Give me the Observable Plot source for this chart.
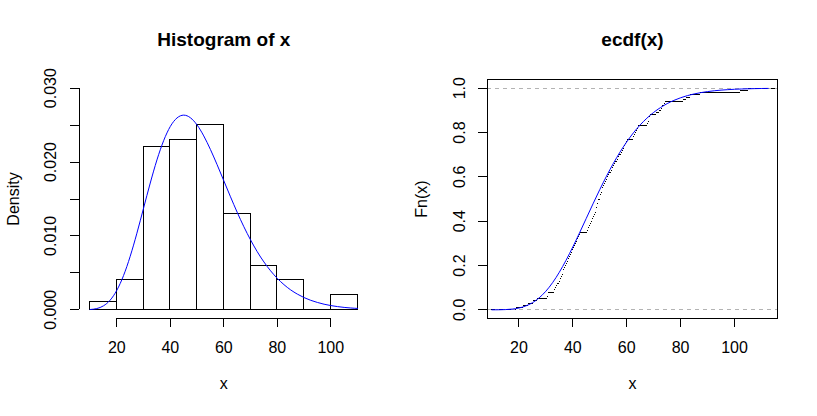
<!DOCTYPE html>
<html><head><meta charset="utf-8">
<script src="https://cdn.jsdelivr.net/npm/d3@7"></script>
<script src="https://cdn.jsdelivr.net/npm/@observablehq/plot@0.6"></script>
<style>
body{margin:0;background:#fff;}
#wrap{display:flex;width:817px;height:416px;background:#fff;}
</style></head><body><div id="wrap"></div>
<script>
// Histogram bins (density scale)
const binStarts = [10, 20, 30, 40, 50, 60, 70, 80, 90, 100];
const binEnds   = [20, 30, 40, 50, 60, 70, 80, 90, 100, 110];
const binDensity = [0.001, 0.004, 0.022, 0.023, 0.025, 0.013, 0.006, 0.004, 0.000, 0.002];

// Blue density curve
const densX = [10, 12.5, 15, 17.5, 20, 22.5, 25, 27.5, 30, 32.5, 35, 37.5, 40, 42.5, 45, 47.5, 50, 52.5, 55, 57.5, 60, 62.5, 65, 67.5, 70, 72.5, 75, 77.5, 80, 82.5, 85, 87.5, 90, 92.5, 95, 97.5, 100, 102.5, 105, 107.5, 110];
const densY = [0.00004, 0.00017, 0.00054, 0.00131, 0.00265, 0.00463, 0.00725, 0.01037, 0.01377, 0.01716, 0.02029, 0.02289, 0.02482, 0.02597, 0.02635, 0.02600, 0.02502, 0.02354, 0.02170, 0.01964, 0.01747, 0.01530, 0.01321, 0.01125, 0.00947, 0.00787, 0.00648, 0.00528, 0.00426, 0.00341, 0.00270, 0.00213, 0.00166, 0.00129, 0.00100, 0.00076, 0.00058, 0.00044, 0.00033, 0.00025, 0.00019];

// Blue CDF curve
const cdfX = [10, 12.5, 15, 17.5, 20, 22.5, 25, 27.5, 30, 32.5, 35, 37.5, 40, 42.5, 45, 47.5, 50, 52.5, 55, 57.5, 60, 62.5, 65, 67.5, 70, 72.5, 75, 77.5, 80, 82.5, 85, 87.5, 90, 92.5, 95, 97.5, 100, 102.5, 105, 107.5, 110, 112.5];
const cdfY = [0.00005, 0.0003, 0.0011, 0.0033, 0.0081, 0.0171, 0.0318, 0.0538, 0.0839, 0.1226, 0.1695, 0.2236, 0.2834, 0.3470, 0.4126, 0.4782, 0.5421, 0.6029, 0.6595, 0.7112, 0.7576, 0.7986, 0.8342, 0.8647, 0.8906, 0.9122, 0.9302, 0.9448, 0.9567, 0.9663, 0.9739, 0.9799, 0.9846, 0.9883, 0.9911, 0.9933, 0.9950, 0.9963, 0.9972, 0.9980, 0.9985, 0.9989];

// Sample values (100) behind the ECDF steps
const xSample = [19.3, 21.7, 23.5, 25.3, 27.0,
  30.6, 30.9, 31.1, 33.3, 33.6, 34.0, 34.5, 35.0, 35.4, 35.8, 36.1, 36.4, 36.7, 37.0, 37.3, 37.7, 38.1, 38.5, 38.8, 39.1, 39.4, 39.8,
  40.3, 40.6, 40.9, 41.3, 41.7, 42.1, 42.5, 42.9, 45.4, 45.8, 46.2, 46.6, 47.0, 47.4, 47.8, 48.1, 48.4, 48.7, 48.9, 49.1, 49.3, 49.5, 49.7,
  50.2, 50.4, 50.7, 50.9, 51.2, 51.5, 51.8, 52.2, 52.6, 53.0, 53.4, 53.8, 54.2, 54.6, 55.0, 55.4, 55.9, 56.4, 56.9, 57.4, 57.9, 58.4, 58.9, 59.3, 59.7,
  60.1, 60.4, 62.5, 62.9, 63.3, 63.7, 64.0, 64.4, 67.9, 68.2, 68.4, 68.6, 68.8,
  71.0, 72.0, 72.8, 73.4, 73.9, 74.4,
  81.2, 82.1, 83.5, 87.4,
  102.1, 105.0];

const xTicks = [20, 40, 60, 80, 100];
const histYTicks = [0, 0.005, 0.010, 0.015, 0.020, 0.025, 0.030];
const histYLabels = [0, 0.010, 0.020, 0.030];
const ecdfYTicks = [0, 0.2, 0.4, 0.6, 0.8, 1.0];

const font = "'Liberation Sans', Arial, Helvetica, sans-serif";
const FS = 16;
const TFS = 19;
const crisp = {shapeRendering: "crispEdges"};
const common = {height: 416, marginTop: 78.8, marginBottom: 97.8,
  style: {fontFamily: font, color: "black", background: "white", overflow: "visible"}};

// ---------- Left: histogram ----------
const hist = binStarts.map((s, i) => ({x1: s, x2: binEnds[i], d: binDensity[i]}));
const dens = densX.map((x, i) => ({x, y: densY[i]}));
const hxDom = [6, 114], hyDom = [-0.0012, 0.0312];

const left = Plot.plot({
  ...common,
  width: 408, marginLeft: 78.9, marginRight: 40.3,
  x: {domain: hxDom}, y: {domain: hyDom},
  marks: [
    Plot.rect(hist, {x1: "x1", x2: "x2", y1: () => 0, y2: "d", fill: "none", stroke: "black", strokeWidth: 1, ...crisp}),
    Plot.ruleY([0], {x1: binStarts[0], x2: binEnds[binEnds.length - 1], stroke: "black", strokeWidth: 1, ...crisp}),
    Plot.line(dens, {x: "x", y: "y", stroke: "#0000ff", strokeWidth: 1, curve: "natural"}),
    Plot.ruleY([hyDom[0]], {x1: xTicks[0], x2: xTicks[xTicks.length - 1], stroke: "black", strokeWidth: 1, ...crisp}),
    Plot.ruleX([hxDom[0]], {y1: histYTicks[0], y2: histYTicks[histYTicks.length - 1], stroke: "black", strokeWidth: 1, ...crisp}),
    Plot.axisX({ticks: xTicks, tickSize: 9, tickPadding: 13.5, fontSize: FS, label: null, tickFormat: d => String(d), ...crisp}),
    Plot.axisY({ticks: histYTicks, tickSize: 9, tickFormat: () => "", label: null, ...crisp}),
    Plot.text(histYLabels, {y: d => d, text: d => d.toFixed(3), frameAnchor: "left", dx: -28.5, rotate: -90, textAnchor: "middle", lineAnchor: "middle", fontSize: FS}),
    Plot.text(["x"], {text: d => d, frameAnchor: "bottom", dy: 69.8, textAnchor: "middle", lineAnchor: "bottom", fontSize: FS}),
    Plot.text(["Density"], {text: d => d, frameAnchor: "left", dx: -66, rotate: -90, textAnchor: "middle", lineAnchor: "middle", fontSize: FS}),
    Plot.text(["Histogram of x"], {text: d => d, frameAnchor: "top", dy: -33.1, textAnchor: "middle", lineAnchor: "bottom", fontSize: TFS, fontWeight: "bold"})
  ]
});

// ---------- Right: ECDF ----------
const s = xSample.slice().sort(d3.ascending);
const n = s.length;
const exDom = [8.47, 115.83], eyDom = [-0.04, 1.04];
const steps = d3.range(n + 1).map(i => ({x1: i === 0 ? exDom[0] : s[i - 1], x2: i === n ? exDom[1] : s[i], y: i / n}));
const cdf = cdfX.map((x, i) => ({x, y: cdfY[i]}));

const right = Plot.plot({
  ...common,
  width: 409, marginLeft: 79.3, marginRight: 40.3,
  x: {domain: exDom}, y: {domain: eyDom},
  marks: [
    Plot.ruleY(steps, {y: "y", x1: "x1", x2: "x2", stroke: "black", strokeWidth: 1, ...crisp}),
    Plot.ruleY([0, 1], {stroke: "#b3b3b3", strokeWidth: 1, strokeDasharray: "4,4", ...crisp}),
    Plot.line(cdf, {x: "x", y: "y", stroke: "#0000ff", strokeWidth: 1, curve: "monotone-x"}),
    Plot.frame({stroke: "black", strokeWidth: 1, ...crisp}),
    Plot.axisX({ticks: xTicks, tickSize: 9, tickPadding: 13.5, fontSize: FS, label: null, tickFormat: d => String(d), ...crisp}),
    Plot.axisY({ticks: ecdfYTicks, tickSize: 9, tickFormat: () => "", label: null, ...crisp}),
    Plot.text(ecdfYTicks, {y: d => d, text: d => d.toFixed(1), frameAnchor: "left", dx: -28, rotate: -90, textAnchor: "middle", lineAnchor: "middle", fontSize: FS}),
    Plot.text(["x"], {text: d => d, frameAnchor: "bottom", dy: 69.8, textAnchor: "middle", lineAnchor: "bottom", fontSize: FS}),
    Plot.text(["Fn(x)"], {text: d => d, frameAnchor: "left", dx: -65.6, rotate: -90, textAnchor: "middle", lineAnchor: "middle", fontSize: FS}),
    Plot.text(["ecdf(x)"], {text: d => d, frameAnchor: "top", dy: -33.1, textAnchor: "middle", lineAnchor: "bottom", fontSize: TFS, fontWeight: "bold"})
  ]
});

const wrap = document.getElementById("wrap");
wrap.appendChild(left);
wrap.appendChild(right);
</script>
</body></html>
